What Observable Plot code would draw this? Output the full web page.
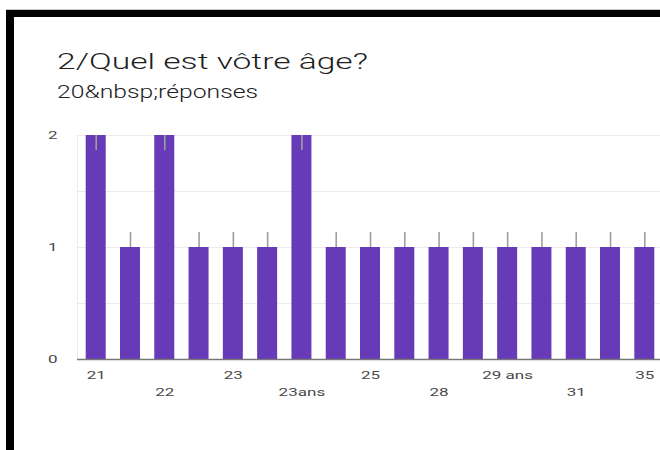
<!DOCTYPE html>
<html><head><meta charset="utf-8">
<script src="https://cdn.jsdelivr.net/npm/d3@7"></script>
<script src="https://cdn.jsdelivr.net/npm/@observablehq/plot@0.6"></script>
<style>
html,body{margin:0;padding:0;background:#fff;width:660px;height:450px;overflow:hidden;position:relative;font-family:Roboto,sans-serif;}
#topline{position:absolute;left:6px;top:9px;width:660px;height:1px;background:#c8c8c8;}
#topbar{position:absolute;left:6px;top:10px;width:660px;height:7px;background:#000;}
#leftbar{position:absolute;left:6px;top:10px;width:8px;height:440px;background:#000;}
.t{position:absolute;white-space:nowrap;line-height:1;transform-origin:0 0;color:#202124;}
#title{left:57px;top:49.5px;font-size:22.5px;font-weight:300;color:#1f1f1f;}
#sub{left:57px;top:81.5px;font-size:19px;font-weight:300;color:#202124;}
#chart{position:absolute;left:0;top:110px;width:670px;}
#chart svg{max-width:none !important;}
</style></head>
<body>
<div id="topline"></div><div id="topbar"></div><div id="leftbar"></div>
<div id="title" class="t">2/Quel est vôtre âge?</div>
<div id="sub" class="t">20&amp;nbsp;réponses</div>
<div id="chart"></div>
<script>
const ages = ["21","21 ans","22","22 ans","23","23 ans","23ans","24","25","26","28","29","29 ans","30","31","33","35"];
const counts = [2,1,2,1,1,1,2,1,1,1,1,1,1,1,1,1,1];
const row1Labels = ["21","23","25","29 ans","35"];
const row2Labels = ["22","23ans","28","31"];
const yTicks = [0,1,2];
const yGrid = [0.5,1,1.5,2];
const markerLen = 0.135;

const data = ages.map((a,i)=>({age:a, count:counts[i]}));

const chart = Plot.plot({
  width: 670, height: 340,
  marginLeft: 77, marginRight: 7, marginTop: 25, marginBottom: 91,
  style: {fontFamily: "Roboto, sans-serif", fontSize: "11px", color: "#444", background: "transparent", overflow: "visible", maxWidth: "none"},
  x: {domain: ages, paddingInner: 0.417, paddingOuter: 0.254, round: false, label: null, axis: null},
  y: {domain: [0,2], label: null, axis: null},
  marks: [
    Plot.gridY(yGrid, {stroke: "#ececec", strokeOpacity: 1}),
    Plot.frame({anchor: "left", stroke: "#ececec"}),
    Plot.barY(data, {x: "age", y: "count", fill: "#673ab7"}),
    Plot.ruleX(data, {x: "age",
      y1: d => Math.min(d.count + markerLen, 2) - markerLen,
      y2: d => Math.min(d.count + markerLen, 2),
      stroke: "#9e9e9e", strokeWidth: 1.6}),
    Plot.ruleY([0], {stroke: "#777", strokeWidth: 1.5}),
    Plot.axisY(yTicks, {tickSize: 0, tickPadding: 20, label: null, fill: "#4a4a4a", tickFormat: d3.format("d")}),
    Plot.axisX(row1Labels, {tickSize: 0, tickPadding: 12, label: null, fill: "#4a4a4a"}),
    Plot.axisX(row2Labels, {tickSize: 0, tickPadding: 29, label: null, fill: "#4a4a4a"})
  ]
});
document.getElementById("chart").appendChild(chart);

// horizontal stretch of text to match the reference's wide lettering
const sx = 1.55;
for (const t of chart.querySelectorAll("text")) {
  const tr = t.getAttribute("transform");
  if (tr) t.setAttribute("transform", tr + ` scale(${sx},1)`);
  else {
    const x = +t.getAttribute("x") || 0, y = +t.getAttribute("y") || 0;
    t.setAttribute("transform", `translate(${x},${y}) scale(${sx},1) translate(${-x},${-y})`);
  }
}
function fit(id, w){
  const el = document.getElementById(id);
  const nat = el.getBoundingClientRect().width;
  el.style.transform = `scaleX(${w/nat})`;
}
fit("title", 311);
fit("sub", 201);
</script>
</body></html>
